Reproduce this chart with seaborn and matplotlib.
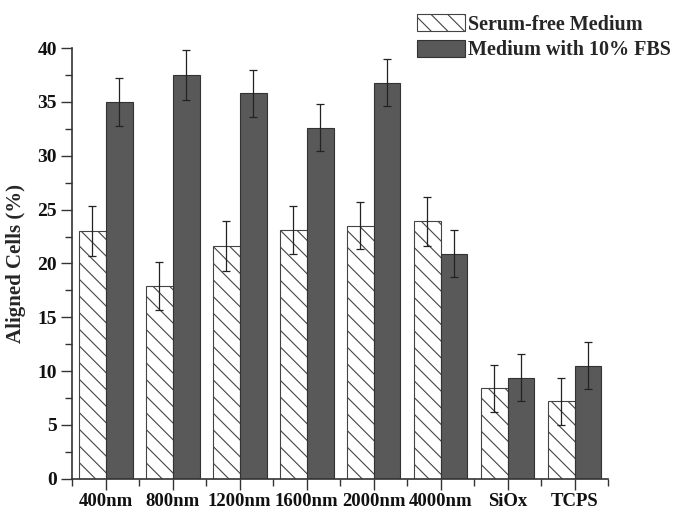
import numpy as np
import pandas as pd
import matplotlib
matplotlib.use('Agg')
import matplotlib.pyplot as plt
import seaborn as sns
from matplotlib.ticker import MultipleLocator, FixedLocator

# values
categories = ['400nm', '800nm', '1200nm', '1600nm', '2000nm', '4000nm', 'SiOx', 'TCPS']
groups = ['Serum-free Medium', 'Medium with 10% FBS']
serum_free = [23.0, 17.9, 21.6, 23.1, 23.5, 23.9, 8.4, 7.2]
serum_free_err = [2.3, 2.2, 2.3, 2.2, 2.2, 2.3, 2.2, 2.2]
fbs = [35.0, 37.5, 35.8, 32.6, 36.8, 20.9, 9.4, 10.5]
fbs_err = [2.2, 2.3, 2.2, 2.2, 2.2, 2.2, 2.2, 2.2]

df = pd.DataFrame({
    'substrate': categories * 2,
    'group': [groups[0]] * len(categories) + [groups[1]] * len(categories),
    'value': serum_free + fbs,
    'err': serum_free_err + fbs_err,
})

sns.set_style('ticks')
plt.rcParams['font.family'] = ['Liberation Serif', 'DejaVu Serif']
plt.rcParams['font.weight'] = 'bold'
plt.rcParams['hatch.color'] = '#444444'
plt.rcParams['hatch.linewidth'] = 0.8

fig = plt.figure(figsize=(6.75, 5.12), dpi=100)
ax = fig.add_axes([0.107, 0.065, 0.794, 0.841])

sns.barplot(data=df, x='substrate', y='value', hue='group', order=categories,
            hue_order=groups, palette=['white', '#595959'], errorbar=None,
            width=0.8, gap=0, edgecolor='#333333', linewidth=0.8,
            legend=False, ax=ax)

# hatch the serum-free bars
for bar in ax.containers[0]:
    bar.set_facecolor('white')
    bar.set_hatch('\\\\')
    bar.set_edgecolor('#444444')

# error bars at bar centers
for cont, errs in zip(ax.containers, [serum_free_err, fbs_err]):
    xs = [b.get_x() + b.get_width() / 2 for b in cont]
    ys = [b.get_height() for b in cont]
    ax.errorbar(xs, ys, yerr=errs, fmt='none', ecolor='#222222',
                elinewidth=0.9, capsize=3, capthick=0.9)

ax.set_xlim(-0.5, 7.5)
ax.set_ylim(0, 40)
ax.yaxis.set_major_locator(MultipleLocator(5))
ax.yaxis.set_minor_locator(MultipleLocator(2.5))
ax.xaxis.set_minor_locator(FixedLocator(np.arange(-0.5, 8, 1)))
ax.tick_params(which='major', direction='out', length=8, width=1, colors='#333333',
               labelcolor='#111111')
ax.tick_params(which='minor', direction='out', length=5, width=1, colors='#333333')
ax.tick_params(axis='x', labelsize=13.5, pad=2)
ax.tick_params(axis='y', labelsize=14, pad=3)
for lab in ax.get_xticklabels() + ax.get_yticklabels():
    lab.set_fontweight('bold')

sns.despine(ax=ax)
for sp in ['left', 'bottom']:
    ax.spines[sp].set_color('#333333')
    ax.spines[sp].set_linewidth(1.2)

ax.set_xlabel('')
ax.set_ylabel('Aligned Cells (%)', fontsize=15, fontweight='bold', labelpad=8)

leg = fig.legend(handles=[ax.containers[0], ax.containers[1]], labels=groups,
                 loc='upper left', bbox_to_anchor=(0.597, 1.0), frameon=False,
                 prop={'size': 14.5, 'weight': 'bold'}, handlelength=2.4,
                 handleheight=0.95, handletextpad=0.15, labelspacing=0.25,
                 borderpad=0.2)

fig.savefig('out.png', dpi=100)
